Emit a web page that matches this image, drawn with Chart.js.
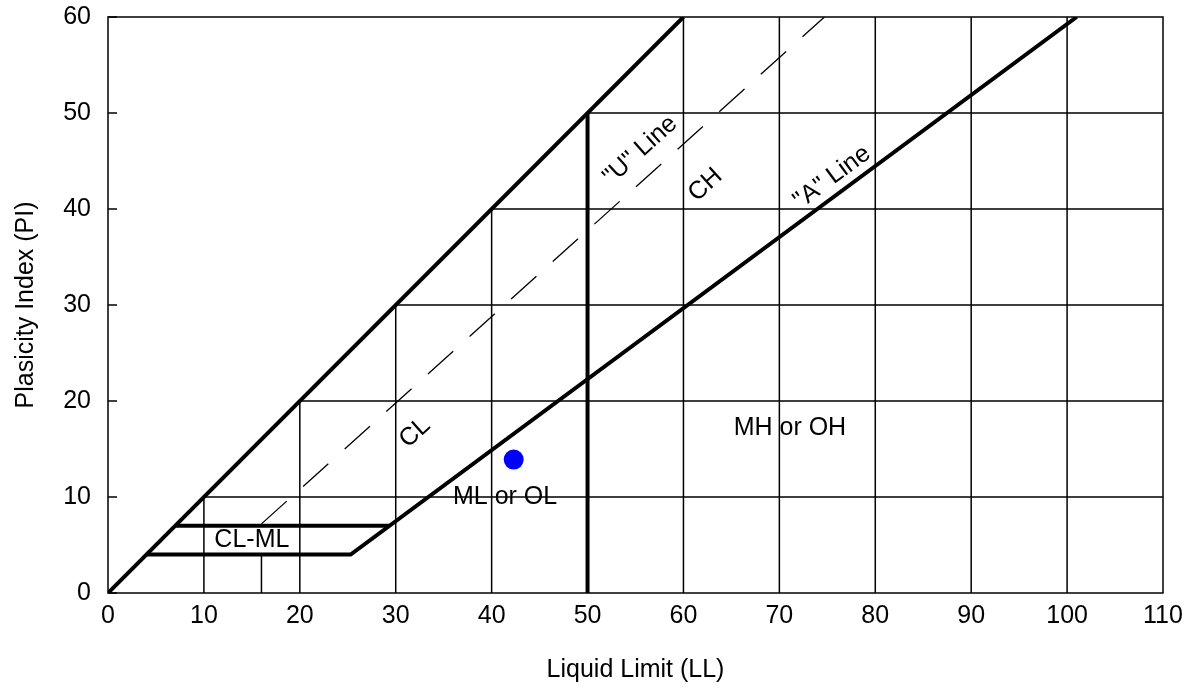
<!DOCTYPE html>
<html>
<head>
<meta charset="utf-8">
<script src="https://cdn.jsdelivr.net/npm/chart.js@4/dist/chart.umd.min.js"></script>
<style>
  html, body { margin: 0; padding: 0; background: #fff; }
  #wrap { width: 1190px; height: 692px; }
</style>
</head>
<body>
<div id="wrap"><canvas id="graphic"></canvas></div>
<script>
// chart values
var llTicks = [0, 10, 20, 30, 40, 50, 60, 70, 80, 90, 100, 110];
var piTicks = [0, 10, 20, 30, 40, 50, 60];

var upperLine = [[0, 0], [60, 60]];
var aLine = [[4, 4], [25.3, 4], [101, 60]];
var clmlTop = [[7, 7], [29.3, 7]];
var uLine = [[16, 7.2], [74.7, 60]];
var uFoot = [[16, 0], [16, 4]];
var ll50 = [[50, 0], [50, 50]];
var sample = [[42.3, 13.9]];

var zoneText = ['CL', 'CH', '"U" Line', '"A" Line', 'MH or OH', 'ML or OL', 'CL-ML'];
var zoneLL = [32.0, 62.3, 55.5, 75.5, 71.1, 41.4, 15.0];
var zonePI = [16.7, 42.5, 46.1, 43.3, 17.2, 10.0, 5.5];
var zoneAngle = [-42, -42, -42, -36.5, 0, 0, 0];

function pts(arr) {
    return arr.map(function (p) { return { x: p[0], y: p[1] }; });
}

// partial grid: verticals stop at the upper line, horizontals start at it
var gridPts = [];
llTicks.forEach(function (v) {
    if (v == 0 || v == 110) return;
    gridPts.push({ x: v, y: 0 }, { x: v, y: Math.min(v, 60) }, { x: v, y: null });
});
piTicks.forEach(function (h) {
    if (h == 0 || h == 60) return;
    gridPts.push({ x: h, y: h }, { x: 110, y: h }, { x: 110, y: null });
});

var font = 'Liberation Sans, Arial, sans-serif';
var fsize = 25;

var decor = {
    id: 'decor',
    afterDatasetsDraw: function (chart) {
        var c = chart.ctx, a = chart.chartArea;
        var xs = chart.scales.x, ys = chart.scales.y;
        c.save();
        c.strokeStyle = '#000';
        c.lineWidth = 1.5;
        c.strokeRect(a.left, a.top, a.right - a.left, a.bottom - a.top);
        // inside ticks on the PI axis
        piTicks.forEach(function (t) {
            var y = ys.getPixelForValue(t);
            c.beginPath();
            c.moveTo(a.left, y);
            c.lineTo(a.left + 9, y);
            c.stroke();
        });
        c.fillStyle = '#000';
        c.font = fsize + 'px ' + font;
        c.textAlign = 'center';
        c.textBaseline = 'middle';
        for (var i = 0; i < zoneText.length; i++) {
            c.save();
            c.translate(xs.getPixelForValue(zoneLL[i]), ys.getPixelForValue(zonePI[i]));
            c.rotate(zoneAngle[i] * Math.PI / 180);
            c.fillText(zoneText[i], 0, 0);
            c.restore();
        }
        c.restore();
    }
};

function seg(data, w, dash) {
    return {
        data: pts(data),
        showLine: true,
        borderColor: '#000',
        borderWidth: w,
        borderDash: dash || [],
        pointRadius: 0,
        fill: false
    };
}

var ctx = document.getElementById('graphic');
var chartGraph = new Chart(ctx, {
    type: 'scatter',
    data: {
        datasets: [
            {
                data: sample.map(function (p) { return { x: p[0], y: p[1] }; }),
                pointRadius: 10,
                pointBackgroundColor: '#0000ff',
                pointBorderWidth: 0,
                showLine: false
            },
            Object.assign(seg([], 0), { data: gridPts, borderWidth: 1.5, spanGaps: false }),
            seg(upperLine, 4),
            seg(aLine, 4),
            seg(clmlTop, 4),
            seg(ll50, 4),
            seg(uFoot, 1.5),
            seg(uLine, 1.3, [34, 22])
        ]
    },
    options: {
        responsive: true,
        maintainAspectRatio: false,
        animation: false,
        layout: { padding: { top: 17, right: 27, left: 0, bottom: 0 } },
        plugins: {
            legend: { display: false },
            tooltip: { enabled: false }
        },
        scales: {
            x: {
                type: 'linear',
                min: 0, max: 110,
                afterFit: function (s) { s.height = 99; s.paddingLeft = 0; s.paddingRight = 0; },
                afterBuildTicks: function (s) { s.ticks = llTicks.map(function (v) { return { value: v }; }); },
                grid: { display: false },
                border: { display: false },
                ticks: { color: '#000', font: { family: font, size: fsize }, padding: 0, maxRotation: 0 },
                title: { display: true, text: 'Liquid Limit (LL)', color: '#000', font: { family: font, size: fsize }, padding: { top: 4, bottom: 7 } }
            },
            y: {
                type: 'linear',
                min: 0, max: 60,
                afterFit: function (s) { s.width = 108; s.paddingTop = 0; s.paddingBottom = 0; },
                afterBuildTicks: function (s) { s.ticks = piTicks.map(function (v) { return { value: v }; }); },
                grid: { display: false },
                border: { display: false },
                ticks: { color: '#000', font: { family: font, size: fsize }, padding: 9 },
                title: { display: true, text: 'Plasicity Index (PI)', color: '#000', font: { family: font, size: fsize }, padding: { top: 11, bottom: 0 } }
            }
        }
    },
    plugins: [decor]
});
</script>
</body>
</html>
